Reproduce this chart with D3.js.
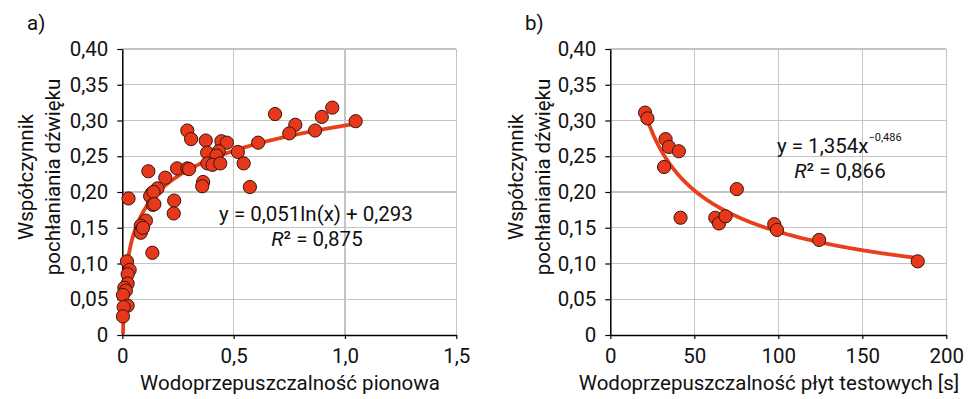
<!DOCTYPE html>
<html>
<head>
<meta charset="utf-8">
<script src="https://cdn.jsdelivr.net/npm/d3@7"></script>
<style>
  html, body { margin: 0; padding: 0; background: #fff; }
  svg text { font-family: "Roboto", "Liberation Sans", sans-serif; fill: #111; }
</style>
</head>
<body>
<svg id="chart" width="970" height="399"></svg>
<script>
// Panel a: vertical permeability vs sound absorption coefficient
const permA = [0.686, 0.292, 0.309, 0.375, 0.445, 0.470, 0.610, 0.381, 0.433, 0.423,
  0.519, 0.382, 0.405, 0.440, 0.545, 0.246, 0.292, 0.300, 0.363, 0.359,
  0.573, 0.193, 0.117, 0.158, 0.132, 0.125, 0.140, 0.028, 0.137, 0.144,
  0.233, 0.231, 0.106, 0.083, 0.088, 0.083, 0.135, 0.021, 0.033, 0.024,
  0.024, 0.009, 0.016, 0.003, 0.024, 0.006, 0.003, 0.777, 0.750, 0.896,
  0.943, 0.866, 1.048, 0.093];
const absorbA = [0.309, 0.286, 0.274, 0.272, 0.271, 0.269, 0.269, 0.255, 0.257, 0.251,
  0.256, 0.240, 0.238, 0.240, 0.240, 0.233, 0.233, 0.232, 0.214, 0.208,
  0.207, 0.220, 0.229, 0.205, 0.198, 0.194, 0.200, 0.191, 0.182, 0.183,
  0.188, 0.170, 0.160, 0.153, 0.148, 0.143, 0.115, 0.103, 0.091, 0.085,
  0.072, 0.066, 0.062, 0.056, 0.041, 0.039, 0.026, 0.294, 0.282, 0.305,
  0.318, 0.286, 0.299, 0.150];

// Panel b: test-board permeability time [s] vs sound absorption coefficient
const timeB = [20.7, 22.1, 32.9, 34.9, 40.8, 32.0, 75.3, 41.8, 62.5, 64.7, 68.6, 97.6, 99.2, 124.3, 183.0];
const absorbB = [0.311, 0.303, 0.274, 0.263, 0.257, 0.235, 0.204, 0.164, 0.164, 0.156, 0.166, 0.155, 0.147, 0.133, 0.103];

// Axis ticks
const yTicks = [0, 0.05, 0.10, 0.15, 0.20, 0.25, 0.30, 0.35, 0.40];
const xTicksA = [0, 0.5, 1.0, 1.5];
const xTicksB = [0, 50, 100, 150, 200];

// Fitted trend lines
const fitA = { a: 0.051, b: 0.293, xMin: 0.0033, xMax: 1.05, r2: "0,875" };
const fitB = { a: 1.354, p: -0.486, xMin: 20.7, xMax: 183.0, r2: "0,866" };

const POINT_FILL = "#e8381b";
const LINE_COLOR = "#e8401c";
const GRID = "#c4c4c4";
const FS = 20.5;

const svg = d3.select("#chart");
const comma = v => String(v).replace(".", ",");
const fmtY = v => v === 0 ? "0" : d3.format(".2f")(v).replace(".", ",");

const y = d3.scaleLinear().domain([0, 0.40]).range([335, 49]);

function panel(opts) {
  const g = svg.append("g");
  const x = opts.x;
  const [x0, x1] = x.range();

  // grid
  g.append("g").selectAll("line.h").data(yTicks.filter(d => d > 0)).join("line")
    .attr("x1", x0).attr("x2", x1).attr("y1", d => y(d)).attr("y2", d => y(d))
    .attr("stroke", GRID).attr("stroke-width", 1.3).attr("shape-rendering", "crispEdges");
  g.append("g").selectAll("line.v").data(opts.xTicks.filter(d => d > 0)).join("line")
    .attr("x1", d => x(d)).attr("x2", d => x(d)).attr("y1", y(0.40)).attr("y2", y(0))
    .attr("stroke", GRID).attr("stroke-width", 1.3).attr("shape-rendering", "crispEdges");

  // axes
  const yAxis = g.append("g").attr("transform", `translate(${x0},0)`)
    .call(d3.axisLeft(y).tickValues(yTicks).tickFormat(fmtY).tickSizeInner(5).tickSizeOuter(0).tickPadding(9));
  const xAxis = g.append("g").attr("transform", `translate(0,${y(0)})`)
    .call(d3.axisBottom(x).tickValues(opts.xTicks).tickFormat(opts.xFmt).tickSizeInner(4).tickSizeOuter(0));
  [yAxis, xAxis].forEach(a => {
    a.select(".domain").attr("stroke", "#000").attr("stroke-width", 1.5);
    a.selectAll(".tick line").attr("stroke", "#000").attr("stroke-width", 1.2);
    a.selectAll(".tick text").attr("font-size", FS).attr("fill", "#111")
      .attr("font-family", '"Roboto", sans-serif');
  });
  xAxis.selectAll(".tick text").attr("y", 28).attr("dy", 0);

  // trend line
  const n = 300;
  const xs = d3.range(n + 1).map(i => opts.fit.xMin + (opts.fit.xMax - opts.fit.xMin) * Math.pow(i / n, opts.curvePow));
  const line = d3.line().x(d => x(d)).y(d => y(opts.f(d))).curve(d3.curveLinear);
  g.append("path").attr("d", line(xs)).attr("fill", "none")
    .attr("stroke", LINE_COLOR).attr("stroke-width", 3.8).attr("stroke-linecap", "butt");

  // points
  g.append("g").selectAll("circle").data(opts.xs.map((d, i) => [d, opts.ys[i]])).join("circle")
    .attr("cx", d => x(d[0])).attr("cy", d => y(d[1])).attr("r", 6.6)
    .attr("fill", POINT_FILL).attr("stroke", "#3a150c").attr("stroke-width", 1);

  // panel label
  g.append("text").attr("x", opts.labelX).attr("y", 30).attr("font-size", FS).text(opts.label);

  // y title
  const yt = g.append("text").attr("transform", `translate(${opts.yTitleX},177) rotate(-90)`)
    .attr("text-anchor", "middle").attr("font-size", FS);
  yt.append("tspan").attr("x", 0).attr("dy", 0).text("Współczynnik");
  yt.append("tspan").attr("x", 0).attr("dy", 27).text("pochłaniania dźwięku");

  // x title
  g.append("text").attr("x", opts.xTitleX).attr("y", 390).attr("text-anchor", "middle")
    .attr("font-size", FS).text(opts.xTitle);

  return g;
}

const xA = d3.scaleLinear().domain([0, 1.5]).range([122.3, 456.3]);
const gA = panel({
  x: xA, xTicks: xTicksA, xFmt: d => comma(d === 1 ? "1,0" : d),
  xs: permA, ys: absorbA, fit: fitA, curvePow: 3,
  f: v => fitA.a * Math.log(v) + fitA.b,
  label: "a)", labelX: 27, yTitleX: 33, xTitleX: 290,
  xTitle: "Wodoprzepuszczalność pionowa"
});
gA.append("text").attr("x", 316).attr("y", 221).attr("text-anchor", "middle").attr("font-size", FS)
  .text(`y = ${comma(fitA.a)}ln(x) + ${comma(fitA.b)}`);
const r2a = gA.append("text").attr("x", 317).attr("y", 246).attr("text-anchor", "middle").attr("font-size", FS);
r2a.append("tspan").attr("font-style", "italic").text("R");
r2a.append("tspan").text(`² = ${fitA.r2}`);

const xB = d3.scaleLinear().domain([0, 200]).range([610.3, 946.3]);
const gB = panel({
  x: xB, xTicks: xTicksB, xFmt: d => String(d),
  xs: timeB, ys: absorbB, fit: fitB, curvePow: 1,
  f: v => fitB.a * Math.pow(v, fitB.p),
  label: "b)", labelX: 525, yTitleX: 523, xTitleX: 769,
  xTitle: "Wodoprzepuszczalność płyt testowych [s]"
});
const eqB = gB.append("text").attr("x", 777).attr("y", 153).attr("font-size", FS);
eqB.append("tspan").text(`y = ${comma(fitB.a)}x`);
eqB.append("tspan").attr("font-size", 11).attr("dy", -12).text("−" + comma(Math.abs(fitB.p)));
const r2b = gB.append("text").attr("x", 840).attr("y", 178).attr("text-anchor", "middle").attr("font-size", FS);
r2b.append("tspan").attr("font-style", "italic").text("R");
r2b.append("tspan").text(`² = ${fitB.r2}`);
</script>
</body>
</html>
